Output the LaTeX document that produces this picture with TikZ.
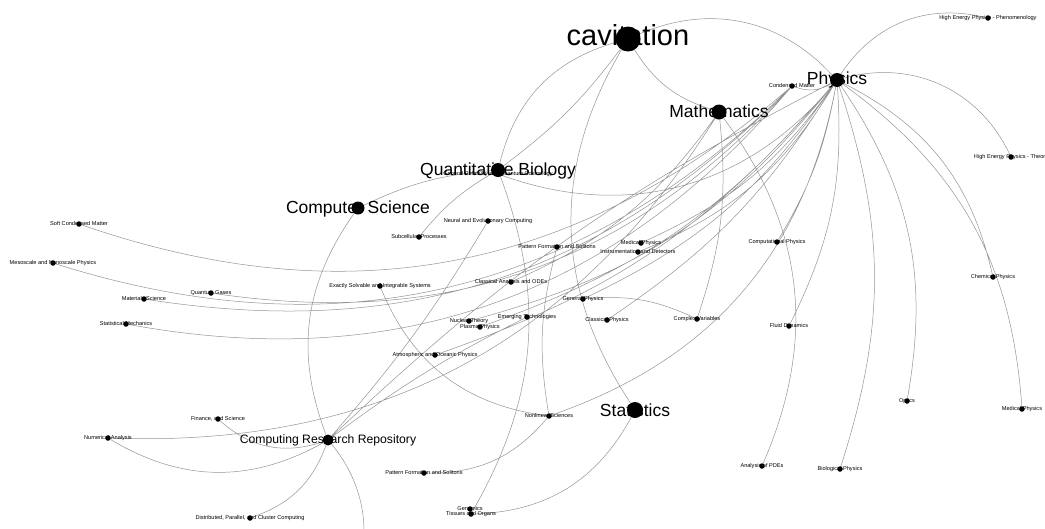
\documentclass[tikz,border=0pt]{standalone}
\usepackage{fontspec}
\setmainfont{Liberation Sans}
\pgfdeclarelayer{bglayer}
\pgfdeclarelayer{edgelayer}
\pgfsetlayers{bglayer,edgelayer,main}
\tikzset{
  dotn/.style={circle,fill=black,inner sep=0pt,minimum size=#1},
  lbl/.style={font=\fontsize{#1}{#1}\selectfont,inner sep=0pt,anchor=base,text=black},
  conn/.style={draw=black!42,line width=0.5pt},
}
\newcommand\smallnode[4]{%
  \node[lbl=5.6] (#1-l) at (#2,#3+1.7) {#4};
  \node[dotn=5.5] (#1) at (#2,#3) {};}
\begin{document}
\begin{tikzpicture}[x=1pt,y=-1pt]
\useasboundingbox (0,0) rectangle (1045,528);
\begin{pgfonlayer}{bglayer}
\fill[white] (0,0) rectangle (1045,528);
\end{pgfonlayer}

% big nodes
\node[lbl=29] (cav-l) at (628,45) {cavitation};
\node[dotn=25] (cav) at (628,39) {};
\node[lbl=17.5] (phys-l) at (837,84) {Physics};
\node[dotn=14] (phys) at (837,80) {};
\node[lbl=17.5] (math-l) at (719,117) {Mathematics};
\node[dotn=15] (math) at (719,112) {};
\node[lbl=17.5] (qb-l) at (498,175) {Quantitative Biology};
\smallnode{grqc}{498}{174}{General Relativity and Quantum Cosmology}
\node[dotn=14] (qb) at (498,170) {};
\node[lbl=17.5] (cs-l) at (358,213) {Computer Science};
\node[dotn=13] (cs) at (358,208) {};
\node[lbl=17.5] (stat-l) at (635,416) {Statistics};
\node[dotn=16] (stat) at (635,410) {};
\node[lbl=12.2] (crr-l) at (328,443.5) {Computing Research Repository};
\node[dotn=11] (crr) at (328,440) {};

% small nodes
\smallnode{condmat}{792}{86}{Condensed Matter}
\smallnode{hepph}{988}{18}{High Energy Physics - Phenomenology}
\smallnode{hepth}{1011}{157}{High Energy Physics - Theory}
\smallnode{chem}{993}{277}{Chemical Physics}
\smallnode{optics}{907}{401}{Optics}
\smallnode{medr}{1022}{409}{Medical Physics}
\smallnode{bio}{840}{469}{Biological Physics}
\smallnode{apde}{762}{466}{Analysis of PDEs}
\smallnode{fluid}{789}{326}{Fluid Dynamics}
\smallnode{comp}{777}{242}{Computational Physics}
\smallnode{cv}{697}{319}{Complex Variables}
\smallnode{classph}{607}{320}{Classical Physics}
\smallnode{genph}{583}{299}{General Physics}
\smallnode{medm}{641}{243}{Medical Physics}
\smallnode{instr}{638}{252}{Instrumentation and Detectors}
\smallnode{patu}{557}{247}{Pattern Formation and Solitons}
\smallnode{neural}{488}{221}{Neural and Evolutionary Computing}
\smallnode{subcell}{419}{237}{Subcellular Processes}
\smallnode{classan}{511}{282}{Classical Analysis and ODEs}
\smallnode{exact}{380}{286}{Exactly Solvable and Integrable Systems}
\smallnode{nucth}{469}{321}{Nuclear Theory}
\smallnode{plasma}{480}{327}{Plasma Physics}
\smallnode{emerg}{527}{317}{Emerging Technologies}
\smallnode{atmos}{435}{355}{Atmospheric and Oceanic Physics}
\smallnode{soft}{79}{224}{Soft Condensed Matter}
\smallnode{meso}{53}{263}{Mesoscale and Nanoscale Physics}
\smallnode{matsci}{144}{299}{Materials Science}
\smallnode{qgas}{211}{293}{Quantum Gases}
\smallnode{statmech}{126}{324}{Statistical Mechanics}
\smallnode{fin}{218}{419}{Finance, and Science}
\smallnode{numan}{108}{438}{Numerical Analysis}
\smallnode{dist}{250}{518}{Distributed, Parallel, and Cluster Computing}
\smallnode{patl}{424}{473}{Pattern Formation and Solitons}
\smallnode{nonlin}{549}{416}{Nonlinear Sciences}
\smallnode{genom}{470}{509}{Genomics}
\smallnode{tiss}{471}{514}{Tissues and Organs}
\coordinate (offb) at (330,620);

\begin{pgfonlayer}{edgelayer}
\path[conn]
  (cav) to[bend left=35] (phys)
  (cav) to[bend right=20] (math)
  (cav) to[bend right=30] (qb)
  (cav) to[bend left=8] (qb)
  (cav) to[bend right=32] (stat)
  (phys) to[bend left=25] (condmat)
  (phys) to[bend left=35] (hepph)
  (phys) to[bend left=40] (hepth)
  (phys) to[bend left=25] (chem)
  (phys) to[bend left=25] (medr)
  (phys) to[bend left=22] (optics)
  (phys) to[bend left=18] (bio)
  (phys) to[bend left=15] (fluid)
  (phys) to[bend left=10] (comp)
  (phys) to[bend left=35] (grqc)
  (phys) to[bend left=15] (medm)
  (phys) to[bend left=18] (instr)
  (phys) to[bend left=15] (genph)
  (phys) to[bend left=12] (classph)
  (phys) to[bend left=15] (plasma)
  (phys) to[bend left=18] (nucth)
  (phys) to[bend left=15] (atmos)
  (phys) to[bend left=30] (nonlin)
  (condmat) to[bend left=30] (soft)
  (condmat) to[bend left=31] (meso)
  (condmat) to[bend left=27] (matsci)
  (condmat) to[bend left=28] (qgas)
  (condmat) to[bend left=30] (statmech)
  (math) to[bend left=30] (apde)
  (math) to[bend left=12] (cv)
  (math) to[bend left=15] (classan)
  (math) to[bend left=30] (numan)
  (nonlin) to[bend left=30] (exact)
  (nonlin) to[bend left=25] (patl)
  (nonlin) to[bend left=12] (patu)
  (qb) to[bend left=25] (tiss)
  (stat) to[bend left=30] (tiss)
  (qb) to[bend right=10] (subcell)
  (cs) to[bend left=10] (qb)
  (crr) to[bend left=28] (cs)
  (crr) to[bend left=30] (fin)
  (crr) to[bend left=30] (numan)
  (crr) to[bend left=25] (dist)
  (crr) to[bend left=40] (offb)
  (crr) to[bend left=5] (emerg)
  (crr) to[bend right=5] (neural)
  (crr) to[bend left=8] (phys)
  (genph) to[bend left=15] (cv);
\end{pgfonlayer}
\end{tikzpicture}
\end{document}
